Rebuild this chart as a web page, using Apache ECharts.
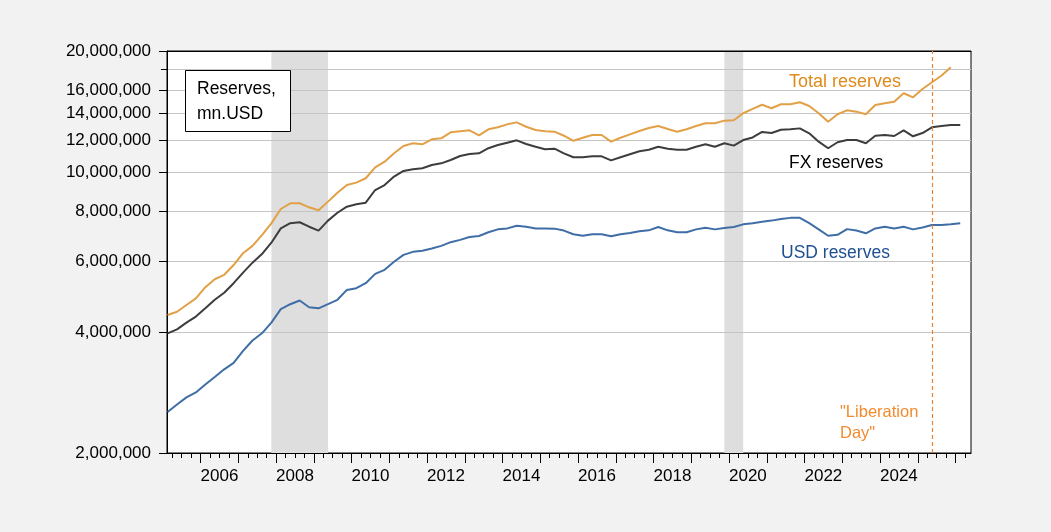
<!DOCTYPE html>
<html>
<head>
<meta charset="utf-8">
<script src="https://cdn.jsdelivr.net/npm/echarts@6.0.0/dist/echarts.min.js"></script>
<style>
html, body { margin: 0; padding: 0; background: #f2f2f2; }
#container { width: 1051px; height: 532px; }
</style>
</head>
<body>
<div id="container"></div>
<script>
// quarterly observations, first one is 2005Q1 (mn. USD)
var firstYear = 2005;

var totalReserves = [
    4410000, 4490000, 4670000, 4850000, 5170000, 5410000, 5550000, 5870000,
    6280000, 6550000, 6970000, 7450000, 8090000, 8360000, 8360000, 8170000,
    8030000, 8440000, 8880000, 9280000, 9410000, 9650000, 10270000, 10610000,
    11130000, 11610000, 11790000, 11720000, 12060000, 12130000, 12550000, 12630000,
    12700000, 12340000, 12770000, 12920000, 13140000, 13290000, 12960000, 12720000,
    12630000, 12600000, 12310000, 11960000, 12170000, 12360000, 12360000, 11900000,
    12170000, 12410000, 12650000, 12870000, 13020000, 12790000, 12600000, 12780000,
    13020000, 13220000, 13220000, 13420000, 13450000, 14000000, 14350000, 14700000,
    14410000, 14740000, 14740000, 14910000, 14600000, 14000000, 13340000, 13920000,
    14240000, 14130000, 13920000, 14680000, 14820000, 14960000, 15700000, 15340000,
    16090000, 16720000, 17360000, 18220000
];

var fxReserves = [
    3970000, 4060000, 4220000, 4370000, 4580000, 4810000, 5010000, 5290000,
    5620000, 5950000, 6250000, 6670000, 7240000, 7460000, 7500000, 7310000,
    7150000, 7570000, 7920000, 8200000, 8310000, 8390000, 9020000, 9280000,
    9740000, 10060000, 10160000, 10220000, 10410000, 10510000, 10710000, 10960000,
    11090000, 11130000, 11460000, 11670000, 11830000, 11990000, 11740000, 11560000,
    11390000, 11430000, 11130000, 10880000, 10880000, 10940000, 10940000, 10690000,
    10880000, 11070000, 11260000, 11360000, 11560000, 11430000, 11360000, 11360000,
    11560000, 11720000, 11560000, 11790000, 11630000, 12010000, 12190000, 12580000,
    12500000, 12740000, 12770000, 12840000, 12480000, 11900000, 11460000, 11860000,
    12010000, 12010000, 11790000, 12310000, 12360000, 12290000, 12700000, 12270000,
    12500000, 12920000, 13020000, 13090000, 13090000
];

var usdReserves = [
    2530000, 2640000, 2750000, 2830000, 2960000, 3090000, 3230000, 3350000,
    3590000, 3810000, 3970000, 4220000, 4560000, 4690000, 4790000, 4610000,
    4580000, 4690000, 4810000, 5090000, 5140000, 5290000, 5580000, 5710000,
    5980000, 6220000, 6330000, 6370000, 6450000, 6550000, 6690000, 6780000,
    6890000, 6930000, 7080000, 7200000, 7240000, 7350000, 7310000, 7240000,
    7240000, 7230000, 7150000, 7000000, 6940000, 7000000, 7000000, 6920000,
    7000000, 7050000, 7120000, 7160000, 7300000, 7160000, 7080000, 7080000,
    7200000, 7270000, 7200000, 7260000, 7300000, 7410000, 7460000, 7520000,
    7570000, 7640000, 7690000, 7690000, 7460000, 7200000, 6940000, 6980000,
    7210000, 7150000, 7040000, 7240000, 7310000, 7240000, 7310000, 7200000,
    7280000, 7380000, 7380000, 7410000, 7460000
];

// shaded periods and the "Liberation Day" marker, as quarters
var recessions = [['2007Q4', '2009Q2'], ['2019Q4', '2020Q2']];
var liberationDay = '2025Q2';

var yTickValues = [2000000, 4000000, 6000000, 8000000, 10000000, 12000000, 14000000, 16000000, 20000000];
var yMinorTick = [18000000];
var xLabelYears = [2006, 2008, 2010, 2012, 2014, 2016, 2018, 2020, 2022, 2024];
var xMajorYears = [];
for (var y = 2006; y <= 2026; y++) xMajorYears.push(y);
var xQuarterMarks = [];
for (var y = 2005; y <= 2026; y++) {
    xQuarterMarks.push(y + 0.25, y + 0.5, y + 0.75);
}

// a quarter is plotted at its middle
function quarterPos(q) {
    var parts = q.split('Q');
    return +parts[0] + (+parts[1] - 0.5) / 4;
}
function toPoints(arr) {
    return arr.map(function (v, i) {
        return [firstYear + 0.125 + i * 0.25, v];
    });
}

var font = '"Liberation Sans", Arial, sans-serif';
var xMin = 2005.11;
var xMax = 2026.41;

var dom = document.getElementById('container');
var myChart = echarts.init(dom);

var option = {
    backgroundColor: '#f2f2f2',
    animation: false,
    grid: {
        left: 167,
        top: 51,
        width: 804,
        height: 402,
        show: true,
        backgroundColor: '#ffffff',
        borderColor: '#000000',
        borderWidth: 1
    },
    xAxis: [{
        type: 'value',
        min: xMin,
        max: xMax,
        position: 'bottom',
        z: 3,
        axisLine: { lineStyle: { color: '#000', width: 1 } },
        axisTick: { inside: false, length: 10, customValues: xMajorYears, lineStyle: { color: '#000' } },
        axisLabel: {
            customValues: xLabelYears.map(function (y) { return y + 0.5; }),
            formatter: function (v) { return String(Math.floor(v)); },
            color: '#000',
            fontFamily: font,
            fontSize: 17,
            margin: 15
        },
        splitLine: { show: false }
    }, {
        type: 'value',
        min: xMin,
        max: xMax,
        position: 'bottom',
        z: 3,
        axisLine: { show: false },
        axisTick: { inside: false, length: 5, customValues: xQuarterMarks, lineStyle: { color: '#000' } },
        axisLabel: { show: false },
        splitLine: { show: false }
    }, {
        type: 'value',
        min: xMin,
        max: xMax,
        position: 'top',
        z: 3,
        axisLine: { lineStyle: { color: '#000', width: 1 } },
        axisTick: { show: false },
        axisLabel: { show: false },
        splitLine: { show: false }
    }],
    yAxis: [{
        type: 'log',
        logBase: 10,
        min: 2000000,
        max: 20000000,
        z: 2,
        axisLine: { show: true, lineStyle: { color: '#000', width: 1 } },
        axisTick: { show: true, inside: false, length: 8, customValues: yTickValues, lineStyle: { color: '#000' } },
        axisLabel: {
            customValues: yTickValues,
            formatter: function (v) { return Math.round(v).toLocaleString('en-US'); },
            color: '#000',
            fontFamily: font,
            fontSize: 17,
            margin: 16
        },
        splitLine: { show: true, lineStyle: { color: '#c4c4c4', width: 1 } },
        minorTick: { show: false },
        minorSplitLine: { show: false }
    }, {
        type: 'log',
        logBase: 10,
        min: 2000000,
        max: 20000000,
        position: 'left',
        z: 2,
        axisLine: { show: false },
        axisTick: { show: true, inside: false, length: 6, customValues: yMinorTick, lineStyle: { color: '#000' } },
        axisLabel: { show: false },
        splitLine: { show: true, lineStyle: { color: '#c4c4c4', width: 1 } }
    }],
    series: [{
        name: 'USD reserves',
        type: 'line',
        data: toPoints(usdReserves),
        showSymbol: false,
        z: 4,
        lineStyle: { color: '#3f6ea6', width: 2 },
        itemStyle: { color: '#3f6ea6' },
        markArea: {
            silent: true,
            z: 1,
            itemStyle: { color: '#dedede' },
            data: recessions.map(function (r) {
                return [{ xAxis: quarterPos(r[0]) }, { xAxis: quarterPos(r[1]) }];
            })
        }
    }, {
        name: 'FX reserves',
        type: 'line',
        data: toPoints(fxReserves),
        showSymbol: false,
        z: 4,
        lineStyle: { color: '#3d3d3d', width: 2 },
        itemStyle: { color: '#3d3d3d' }
    }, {
        name: 'Total reserves',
        type: 'line',
        data: toPoints(totalReserves),
        showSymbol: false,
        z: 4,
        lineStyle: { color: '#e2a047', width: 2 },
        itemStyle: { color: '#e2a047' },
        markLine: {
            silent: true,
            symbol: ['none', 'none'],
            label: { show: false },
            itemStyle: { color: '#f0822a' },
            lineStyle: { color: '#f0822a', width: 1.2, type: [4, 3], opacity: 1 },
            data: [{ xAxis: quarterPos(liberationDay), lineStyle: { color: '#f0822a' } }]
        }
    }],
    graphic: [{
        type: 'rect',
        z: 10,
        shape: { x: 185.5, y: 70.5, width: 105, height: 61 },
        style: { fill: '#fff', stroke: '#000', lineWidth: 1 }
    }, {
        type: 'text', z: 11, x: 197, y: 89.5,
        style: { text: 'Reserves,', font: '17.5px ' + font, fill: '#000', verticalAlign: 'middle' }
    }, {
        type: 'text', z: 11, x: 197, y: 114.5,
        style: { text: 'mn.USD', font: '17.5px ' + font, fill: '#000', verticalAlign: 'middle' }
    }, {
        type: 'text', z: 11, x: 789, y: 82.5,
        style: { text: 'Total reserves', font: '18px ' + font, fill: '#e08a1a', verticalAlign: 'middle' }
    }, {
        type: 'text', z: 11, x: 789, y: 163.5,
        style: { text: 'FX reserves', font: '17.5px ' + font, fill: '#000', verticalAlign: 'middle' }
    }, {
        type: 'text', z: 11, x: 781, y: 253.5,
        style: { text: 'USD reserves', font: '17.5px ' + font, fill: '#1f4f8f', verticalAlign: 'middle' }
    }, {
        type: 'text', z: 11, x: 840, y: 412,
        style: { text: '"Liberation', font: '16.5px ' + font, fill: '#f28a2e', verticalAlign: 'middle' }
    }, {
        type: 'text', z: 11, x: 840, y: 433,
        style: { text: 'Day"', font: '16.5px ' + font, fill: '#f28a2e', verticalAlign: 'middle' }
    }]
};

if (option && typeof option === 'object') {
    myChart.setOption(option, true);
}
</script>
</body>
</html>
